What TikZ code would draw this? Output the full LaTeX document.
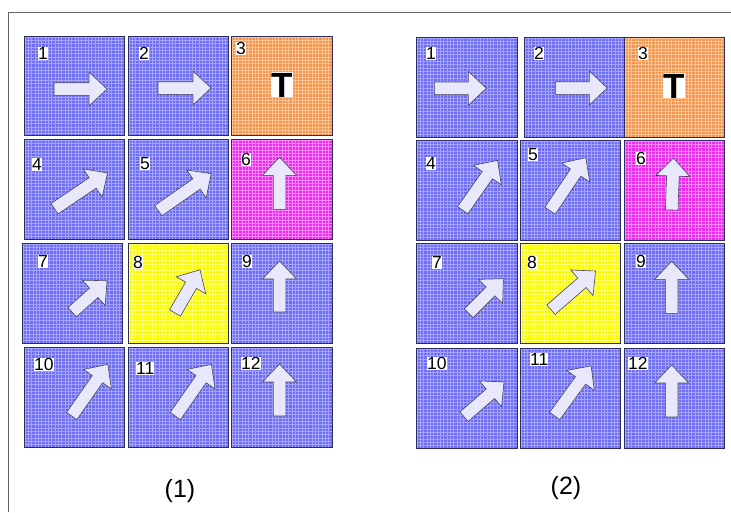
\documentclass[tikz,border=0pt]{standalone}
\usepackage{fontspec}
\setmainfont{Liberation Sans}
\definecolor{bluebase}{RGB}{108,108,245}
\definecolor{bluegrid}{RGB}{165,165,255}
\definecolor{orgbase}{RGB}{240,150,80}
\definecolor{orggrid}{RGB}{252,195,145}
\definecolor{magbase}{RGB}{238,40,238}
\definecolor{maggrid}{RGB}{252,135,252}
\definecolor{yelbase}{RGB}{252,252,0}
\definecolor{yelgrid}{RGB}{255,255,110}
\definecolor{edgecol}{RGB}{45,45,95}
\definecolor{arrfill}{RGB}{232,232,250}
\definecolor{arredge}{RGB}{70,70,90}
\definecolor{framecol}{RGB}{100,100,100}
\tikzset{
  tile/.style={draw=edgecol, line width=0.8pt},
  tilegrid/.style={line width=0.55pt},
  arrowsty/.style={fill=arrfill, draw=arredge, line width=0.6pt, line join=miter},
  numlab/.style={anchor=north west, fill=white, inner sep=0pt, text height=12.5pt, text depth=0pt, font=\fontsize{17.5}{18}\selectfont},
  tlab/.style={fill=white, inner sep=0pt, text height=25pt, text depth=0pt, font=\fontsize{35}{36}\selectfont\bfseries},
  caption/.style={font=\fontsize{25}{26}\selectfont}
}
% tile: x1 y1 x2 y2 base grid
\newcommand{\tile}[6]{%
  \fill[#5] (#1,#2) rectangle (#3,#4);
  \begin{scope}
    \clip (#1,#2) rectangle (#3,#4);
    \foreach \gx in {0,3.33,...,102} {\draw[#6, tilegrid] ({#1+\gx+1},#2) -- ({#1+\gx+1},#4);}
    \foreach \gy in {0,3.33,...,102} {\draw[#6, tilegrid] (#1,{#2+\gy+1}) -- (#3,{#2+\gy+1});}
  \end{scope}
  \draw[tile] (#1,#2) rectangle (#3,#4);}
% block arrow: tail x, tail y, angle, length
\newcommand{\barrow}[4]{%
  \draw[arrowsty, shift={(#1,#2)}, rotate=#3]
    (0,-6.3) -- ({#4-18},-6.3) -- ({#4-18},-17) -- (#4,0) -- ({#4-18},17) -- ({#4-18},6.3) -- (0,6.3) -- cycle;}
\begin{document}
\begin{tikzpicture}[x=1pt,y=-1pt]
\useasboundingbox (0,0) rectangle (731,512);
\fill[white] (0,0) rectangle (731,512);
\draw[framecol, line width=0.9pt] (8,512) -- (8,12) -- (731,12);

% ---------- panel 1 ----------
\tile{24}{36}{124}{135}{bluebase}{bluegrid}
\tile{128}{36}{228}{135}{bluebase}{bluegrid}
\tile{231}{36}{332}{135}{orgbase}{orggrid}
\tile{24}{139}{124}{239}{bluebase}{bluegrid}
\tile{128}{139}{228}{239}{bluebase}{bluegrid}
\tile{231}{139}{332}{239}{magbase}{maggrid}
\tile{22}{243}{122}{343}{bluebase}{bluegrid}
\tile{128}{243}{228}{343}{yelbase}{yelgrid}
\tile{231}{243}{332}{343}{bluebase}{bluegrid}
\tile{24}{347}{124}{447}{bluebase}{bluegrid}
\tile{128}{347}{228}{447}{bluebase}{bluegrid}
\tile{231}{347}{332}{447}{bluebase}{bluegrid}

\barrow{54}{89}{0}{53}
\barrow{158}{88}{0}{53}
\barrow{54.5}{208.7}{34}{64}
\barrow{158.3}{210.7}{35}{64.6}
\barrow{279.5}{209.3}{90}{52}
\barrow{72.2}{312.2}{42}{47}
\barrow{175}{313}{60}{50}
\barrow{279.5}{312}{90}{51}
\barrow{71.7}{416}{55}{63}
\barrow{175.3}{416}{55}{63}
\barrow{279.5}{416}{90}{52}

\node[numlab] (a1) at (38,47) {1};
\node[numlab] (a2) at (139,47) {2};
\node[numlab] (a3) at (236,42) {3};
\node[numlab] (a4) at (32,158) {4};
\node[numlab] (a5) at (140,157) {5};
\node[numlab] (a6) at (241,153) {6};
\node[numlab] (a7) at (38,255) {7};
\node[numlab] (a8) at (133,256) {8};
\node[numlab] (a9) at (242,255) {9};
\node[numlab] (a10) at (34,358) {10};
\node[numlab] (a11) at (136,362) {11};
\node[numlab] (a12) at (241,357) {12};
\node[tlab, anchor=north] (aT) at (282,72) {T};
\node[caption] (cap1) at (180,491) {(1)};

% ---------- panel 2 ----------
\tile{416}{37}{517}{137}{bluebase}{bluegrid}
\tile{524}{37}{624}{137}{bluebase}{bluegrid}
\tile{624}{37}{724}{137}{orgbase}{orggrid}
\tile{416}{140}{517}{240}{bluebase}{bluegrid}
\tile{520}{140}{620}{240}{bluebase}{bluegrid}
\tile{624}{140}{724}{240}{magbase}{maggrid}
\tile{416}{243}{517}{343}{bluebase}{bluegrid}
\tile{520}{243}{620}{343}{yelbase}{yelgrid}
\tile{624}{243}{724}{343}{bluebase}{bluegrid}
\tile{416}{348}{517}{448}{bluebase}{bluegrid}
\tile{520}{348}{620}{448}{bluebase}{bluegrid}
\tile{624}{348}{724}{448}{bluebase}{bluegrid}

\barrow{434.3}{88.3}{0}{52}
\barrow{555.3}{88}{0}{52}
\barrow{462.7}{210.3}{55}{61}
\barrow{550}{210.7}{56}{64}
\barrow{671.7}{210}{88}{52}
\barrow{468.7}{313.3}{45}{49}
\barrow{551}{309.7}{41}{59}
\barrow{671.7}{313.3}{90}{52}
\barrow{464}{416.7}{41}{53}
\barrow{554.7}{416}{54}{62}
\barrow{671.7}{417}{90}{52}

\node[numlab] (b1) at (426,47) {1};
\node[numlab] (b2) at (534,47) {2};
\node[numlab] (b3) at (638,47) {3};
\node[numlab] (b4) at (426,157) {4};
\node[numlab] (b5) at (528,148) {5};
\node[numlab] (b6) at (636,152) {6};
\node[numlab] (b7) at (432,256) {7};
\node[numlab] (b8) at (527,256) {8};
\node[numlab] (b9) at (636,255) {9};
\node[numlab] (b10) at (427,357) {10};
\node[numlab] (b11) at (530,353) {11};
\node[numlab] (b12) at (628,357) {12};
\node[tlab, anchor=north] (bT) at (674,73) {T};
\node[caption] (cap2) at (566,488) {(2)};
\end{tikzpicture}
\end{document}
